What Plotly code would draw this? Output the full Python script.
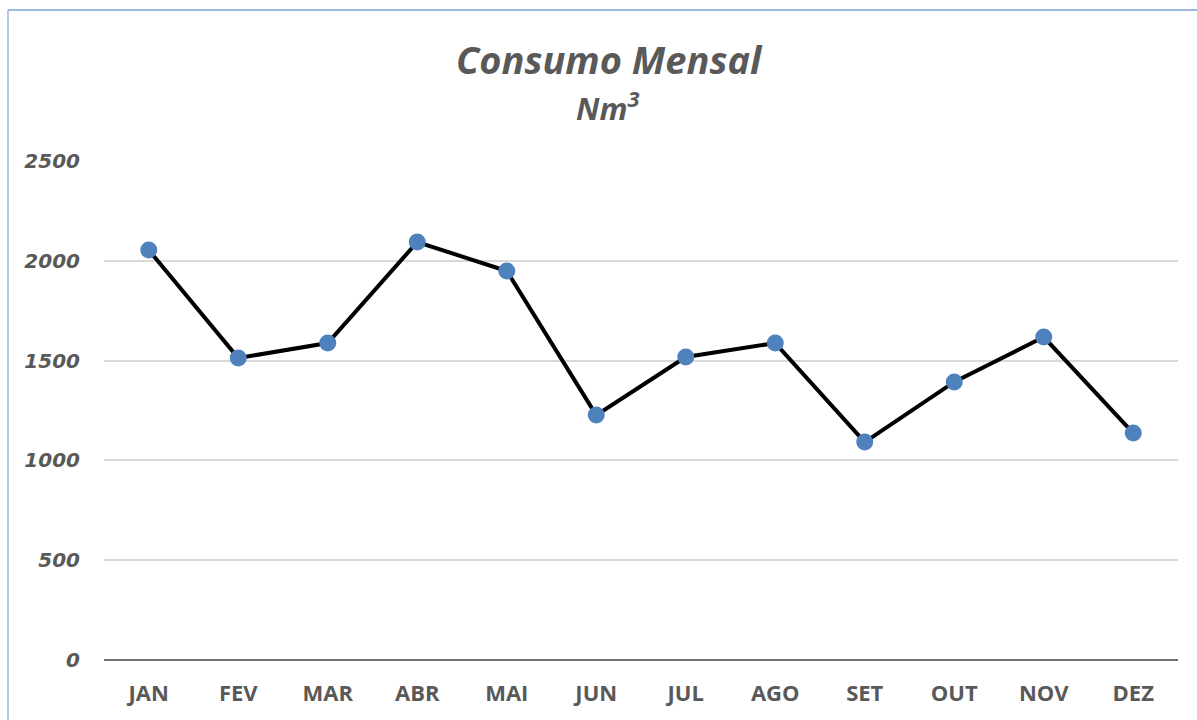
import plotly.graph_objects as go

months = ["JAN", "FEV", "MAR", "ABR", "MAI", "JUN", "JUL", "AGO", "SET", "OUT", "NOV", "DEZ"]
consumo = [2054, 1513, 1588, 2094, 1949, 1227, 1518, 1588, 1092, 1393, 1618, 1137]
y_ticks = [0, 500, 1000, 1500, 2000, 2500]

fig = go.Figure()
fig.add_trace(go.Scatter(
    x=months, y=consumo, mode="lines+markers",
    line=dict(color="black", width=4),
    marker=dict(color="#4F81BD", size=17, line=dict(width=0)),
    showlegend=False,
))

W, H = 1197, 720
L, R, T, B = 104, 19, 161, 60
pw, ph = W - L - R, H - T - B

def px(x):
    return (x - L) / pw

def py(y):
    return (H - B - y) / ph

fig.update_layout(
    width=W, height=H,
    margin=dict(l=L, r=R, t=T, b=B, autoexpand=False),
    plot_bgcolor="white", paper_bgcolor="white",
    xaxis=dict(
        type="category", showgrid=False, ticks="", showline=False, automargin=False,
        range=[-0.5, len(months) - 0.5],
        tickfont=dict(family="Open Sans", size=22, color="#595959", weight="bold"),
        ticklabelstandoff=18,
    ),
    yaxis=dict(
        range=[0, 2500], tickvals=y_ticks, showgrid=True, gridcolor="#D9D9D9", gridwidth=1.5,
        zeroline=False, showline=False, ticks="", automargin=False,
        tickfont=dict(family="DejaVu Sans", size=20, color="#595959", weight="bold", style="italic"),
        ticklabelstandoff=23,
    ),
    annotations=[
        dict(text="<b><i>Consumo Mensal</i></b>", xref="paper", yref="paper",
             x=px(609), y=py(59), xanchor="center", yanchor="middle", showarrow=False,
             font=dict(family="Open Sans", size=38, color="#595959")),
        dict(text="<b><i>Nm<sup>3</sup></i></b>", xref="paper", yref="paper",
             x=px(607), y=py(106), xanchor="center", yanchor="middle", showarrow=False,
             font=dict(family="Open Sans", size=31, color="#595959")),
    ],
    shapes=[
        dict(type="line", xref="paper", yref="paper", x0=0, x1=1, y0=0, y1=0,
             line=dict(color="#404040", width=1.5)),
        dict(type="line", xref="paper", yref="paper", x0=px(8), x1=px(1197), y0=py(10), y1=py(10),
             line=dict(color="#9DB9E0", width=2)),
        dict(type="line", xref="paper", yref="paper", x0=px(8), x1=px(8), y0=py(10), y1=py(720),
             line=dict(color="#9DB9E0", width=1.5)),
    ],
)

fig.write_html("out.html", config={"displayModeBar": False},
               post_script="document.body.style.margin='0';document.body.style.overflow='hidden';")
